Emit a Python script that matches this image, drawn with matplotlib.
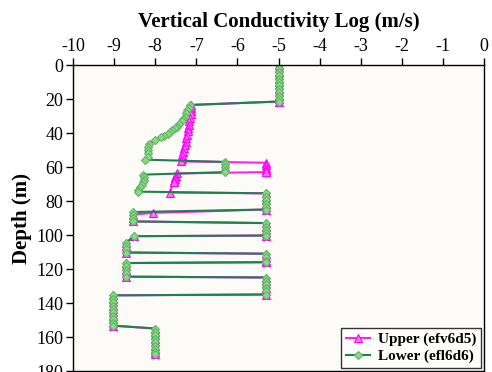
import matplotlib
matplotlib.use('Agg')
import matplotlib.pyplot as plt

# shallow part, both logs
top_depth = [0, 2, 4, 6, 8, 10, 12, 14, 16, 18, 20, 21.5]
top_k = [-5.0, -5.0, -5.0, -5.0, -5.0, -5.0, -5.0, -5.0, -5.0, -5.0, -5.0, -5.0]

# upper (efv6d5) middle section
upper_mid_depth = [23.5, 25, 27, 29, 31, 33, 35, 37, 39, 41, 43, 45, 47, 49, 51, 53, 55, 56.7,
                   57.5, 59, 60.5, 62, 63,
                   63.8, 65, 66, 67, 68, 69, 75,
                   75.5, 77.5, 79.5, 81.5, 83.5, 85,
                   87]
upper_mid_k = [-7.12, -7.12, -7.13, -7.14, -7.15, -7.17, -7.18, -7.19, -7.20, -7.22, -7.24, -7.26,
               -7.28, -7.30, -7.32, -7.34, -7.36, -7.38,
               -5.3, -5.3, -5.3, -5.3, -5.3,
               -7.48, -7.50, -7.51, -7.53, -7.54, -7.55, -7.65,
               -5.3, -5.3, -5.3, -5.3, -5.3, -5.3,
               -8.05]

# lower (efl6d6) middle section
lower_mid_depth = [23.5, 25, 26.5, 28.5, 30.3, 32, 33.2, 34.8, 36.2, 37.2, 38.1, 39.5, 40.7, 41.7,
                   42.6, 44, 46.5, 48, 50, 52, 54, 55.7,
                   57, 58.5, 60, 61.5, 63,
                   64.5, 66, 67.5, 69, 70.4, 72, 73.3, 74.5,
                   75.5, 77.5, 79.5, 81.5, 83.5, 85,
                   86.5]
lower_mid_k = [-7.15, -7.18, -7.22, -7.25, -7.28, -7.32, -7.36, -7.42, -7.47, -7.52, -7.58, -7.64,
               -7.70, -7.78, -7.85, -8.01, -8.15, -8.17, -8.17, -8.17, -8.18, -8.24,
               -6.3, -6.3, -6.3, -6.3, -6.3,
               -8.30, -8.28, -8.27, -8.29, -8.33, -8.38, -8.42, -8.42,
               -5.3, -5.3, -5.3, -5.3, -5.3, -5.3,
               -8.55]

# deep part, both logs
deep_depth = [88, 90, 92,
              93, 95, 97, 99, 100.3,
              100.7, 104.5, 106.5, 108.5, 110.3,
              111, 113, 115, 116,
              116.5, 118.5, 120.5, 122.5, 124.5,
              125, 127, 129, 131, 133, 135,
              135.5, 137.5, 139.5, 141.5, 143.5, 145.5, 147.5, 149.5, 151.5, 153.3,
              155, 157, 159, 161, 163, 165, 167, 169, 170]
deep_k = [-8.55, -8.55, -8.55,
          -5.3, -5.3, -5.3, -5.3, -5.3,
          -8.52, -8.70, -8.70, -8.70, -8.70,
          -5.3, -5.3, -5.3, -5.3,
          -8.70, -8.70, -8.70, -8.70, -8.70,
          -5.3, -5.3, -5.3, -5.3, -5.3, -5.3,
          -9.03, -9.03, -9.03, -9.03, -9.03, -9.03, -9.03, -9.03, -9.03, -9.03,
          -8.01, -8.01, -8.01, -8.01, -8.01, -8.01, -8.01, -8.01, -8.01]

upper_depth = top_depth + upper_mid_depth + deep_depth
upper_k = top_k + upper_mid_k + deep_k
lower_depth = top_depth + lower_mid_depth + deep_depth
lower_k = top_k + lower_mid_k + deep_k

plt.rcParams['font.family'] = 'Liberation Serif'
plt.rcParams['axes.unicode_minus'] = False

fig = plt.figure(figsize=(4.92, 3.72), dpi=100)
ax = fig.add_axes([73 / 492, 1 / 372, 411 / 492, 306 / 372])
ax.set_facecolor('#fcfbf7')

ax.plot(upper_k, upper_depth, color='#ff22ee', lw=1.5, marker='^', ms=6,
        mfc='#ff77ee', mec='#ff00ff', mew=0.8, label='Upper (efv6d5)')
ax.plot(lower_k, lower_depth, color='#1f8050', lw=1.5, marker='D', ms=4.5,
        mfc='#8fd48f', mec='#5cb85c', mew=0.8, label='Lower (efl6d6)')

ax.set_xlim(-10, 0)
ax.set_ylim(180, 0)
ax.set_xticks(range(-10, 1))
ax.set_yticks(range(0, 181, 20))
ax.xaxis.tick_top()
ax.tick_params(direction='out', length=5, width=1, labelsize=13, pad=2)
ax.tick_params(axis='x', top=True, bottom=False)
ax.tick_params(axis='y', left=True, right=False)
for s in ax.spines.values():
    s.set_linewidth(1)

fig.text(279 / 492, 1 - 27 / 372, 'Vertical Conductivity Log (m/s)', ha='center',
         va='baseline', fontsize=15, fontweight='bold')
ax.set_ylabel('Depth (m)', fontsize=15, fontweight='bold', labelpad=3)

leg = ax.legend(loc='lower right', prop={'weight': 'bold', 'size': 11}, frameon=True,
                fancybox=False, edgecolor='black', borderaxespad=0.2,
                handlelength=1.6, handletextpad=0.5, borderpad=0.3, labelspacing=0.2)
leg.get_frame().set_linewidth(1)

fig.savefig('out.png', dpi=100)
